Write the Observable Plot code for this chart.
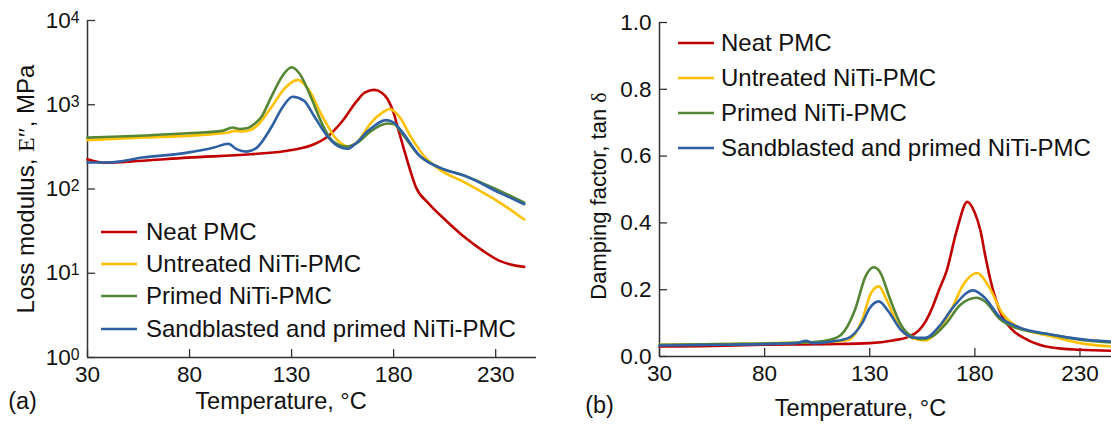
<!DOCTYPE html>
<html><head><meta charset="utf-8">
<script src="https://cdn.jsdelivr.net/npm/d3@7"></script>
<script src="https://cdn.jsdelivr.net/npm/@observablehq/plot@0.6"></script>
<style>
body{margin:0;background:#fff;}
#wrap{display:flex;width:1111px;height:427px;overflow:hidden;}
#wrap svg{display:block;overflow:visible;}
</style></head><body><div id="wrap"></div>
<script>
const seriesNames = ["Neat PMC","Untreated NiTi-PMC","Primed NiTi-PMC","Sandblasted and primed NiTi-PMC"];
const seriesColors = ["#C00000","#FFC000","#558636","#3060A4"];
const xTicks = [30,80,130,180,230];
const lossTicks = [1,10,100,1000,10000];
const tanTicks = [0,0.2,0.4,0.6,0.8,1.0];
const xLabel = "Temperature, °C";
const lossLabel = "Loss modulus, E″, MPa";
const tanLabel = "Damping factor, tan δ";

// (a) Loss modulus E'' (MPa)
const neatLossT = [30,38,55,79,110,130,141,148,155,162,166,170.5,174,177,180,182,185,188,191,197,206,215,224,232,244];
const neatLossV = [225,205,215,236,258,290,340,427,645,1110,1400,1500,1400,1170,800,540,300,170,104,68,41.5,26.5,18.3,14,11.9];
const untrLossT = [30,57,79,99,102,106,110,113,120,127,133,138,145,152,158,162,169,174.6,178,183,188.6,195.6,202.6,215,232,244];
const untrLossV = [380,409,427,468,490,482,505,563,930,1600,1975,1560,735,390,320,360,615,810,890,710,410,236,170,119,69,43.5];
const primLossT = [30,79,96,101,104.5,108,112,115,120,125.5,130,134,139.5,145,150,157,162,169,177,180,185,192,202.6,215,232,244];
const primLossV = [407,458,490,537,515,525,600,705,1230,2200,2785,2320,1230,590,372,320,350,490,600,590,427,258,179,143,95,69];
const sandLossT = [30,40,57,79,92,99,103,108,113,120,125.5,130.5,136,141,148,153,157.5,161,167.5,176.4,180,185,192,202.6,215,232,244];
const sandLossV = [206,206,236,270,310,345,297,278,310,537,930,1245,1120,735,410,320,300,340,490,657,615,448,258,179,143,90,66];

// (b) Damping factor tan delta
const neatTanT = [30,50,80,110,130,141,148,153.4,157,160,163,166.5,171.5,176.4,180,182.7,185,187.5,190,193,197,205,216.6,230,245];
const neatTanV = [0.030,0.031,0.035,0.037,0.040,0.048,0.058,0.078,0.11,0.15,0.20,0.255,0.38,0.463,0.43,0.376,0.30,0.227,0.17,0.12,0.085,0.05,0.027,0.02,0.017];
const untrTanT = [30,60,100,115,120,126.4,130.6,134.3,138,143,150,156.5,161.5,168,175,181,186.6,193,200,216.6,233,245];
const untrTanV = [0.035,0.037,0.042,0.045,0.05,0.11,0.19,0.21,0.17,0.10,0.055,0.048,0.07,0.13,0.22,0.25,0.21,0.13,0.09,0.06,0.037,0.03];
const primTanT = [30,60,100,111,116.4,123,128,131.9,134.8,139.8,144.8,150,154.8,159.8,166.5,173,180.8,185,191.6,200,216.6,233,245];
const primTanV = [0.035,0.037,0.042,0.05,0.065,0.14,0.24,0.267,0.254,0.17,0.095,0.06,0.052,0.06,0.10,0.154,0.176,0.164,0.114,0.085,0.065,0.048,0.042];
const sandTanT = [30,60,95,99.7,103,112,119.7,126.4,130,134.3,139,144.8,151.5,156.5,163,170,179.2,185,191.6,200,216.6,233,245];
const sandTanV = [0.033,0.035,0.04,0.047,0.04,0.045,0.055,0.10,0.145,0.165,0.134,0.08,0.056,0.056,0.09,0.15,0.198,0.174,0.12,0.09,0.065,0.05,0.045];

const font = "'Liberation Sans', Arial, sans-serif";
const serif = "'Liberation Serif', 'Times New Roman', serif";
const axisColor = "#333";
const textColor = "#111";

function rows(T, V, name) { return T.map((t, i) => ({T: t, v: V[i], series: name})); }

const lossData = [
  ...rows(neatLossT, neatLossV, seriesNames[0]),
  ...rows(untrLossT, untrLossV, seriesNames[1]),
  ...rows(primLossT, primLossV, seriesNames[2]),
  ...rows(sandLossT, sandLossV, seriesNames[3])
];
const tanData = [
  ...rows(neatTanT, neatTanV, seriesNames[0]),
  ...rows(untrTanT, untrTanV, seriesNames[1]),
  ...rows(primTanT, primTanV, seriesNames[2]),
  ...rows(sandTanT, sandTanV, seriesNames[3])
];

function panel({width, marginLeft, marginRight, marginTop, marginBottom, xDomain, y, yTicks, yFormat, yBase, data, xLab, panelTag, yLab}) {
  const ph = 427 - marginTop - marginBottom;
  const pw = width - marginLeft - marginRight;
  return Plot.plot({
    width, height: 427, marginLeft, marginRight, marginTop, marginBottom,
    style: {fontFamily: font, fontSize: "22.5px", color: textColor, background: "white", overflow: "visible"},
    x: {domain: xDomain},
    y,
    color: {domain: seriesNames, range: seriesColors},
    marks: [
      Plot.axisX({ticks: xTicks, tickSize: 0, tickPadding: 9, label: null, fontSize: 22.5, fill: textColor}),
      Plot.axisY({ticks: yTicks, tickSize: 0, tickPadding: 8, label: null, tickFormat: yFormat, fontSize: 22.5, fill: textColor}),
      Plot.tickX(xTicks, {x: d => d, insetTop: ph - 8, stroke: axisColor, strokeWidth: 1.3}),
      Plot.tickY(yTicks, {y: d => d, insetRight: pw - 8, stroke: axisColor, strokeWidth: 1.3}),
      Plot.ruleX([xDomain[0]], {stroke: axisColor, strokeWidth: 1.5}),
      Plot.ruleY([yBase], {stroke: axisColor, strokeWidth: 1.5}),
      Plot.line(data, {x: "T", y: "v", z: "series", stroke: "series", curve: "monotone-x", strokeWidth: 2.6}),
      Plot.text([xLab.text], {text: d => d, frameAnchor: "bottom", textAnchor: "middle", dx: xLab.dx, dy: xLab.dy, fontSize: 23.5, fill: textColor}),
      Plot.text([panelTag.text], {text: d => d, frameAnchor: "bottom-left", textAnchor: "middle", dx: panelTag.dx, dy: panelTag.dy, fontSize: 23.5, fill: textColor}),
      Plot.text([yLab.text], {text: d => d, frameAnchor: "left", textAnchor: "middle", rotate: -90, dx: yLab.dx, dy: yLab.dy, fontSize: yLab.size, fill: textColor})
    ]
  });
}

const left = panel({
  width: 550, marginLeft: 87, marginRight: 14, marginTop: 20, marginBottom: 70,
  xDomain: [30, 250],
  y: {type: "log", domain: [1, 10000]},
  yTicks: lossTicks, yFormat: d => "10^" + Math.round(Math.log10(d)), yBase: 1,
  data: lossData,
  xLab: {text: xLabel, dx: -31, dy: 51},
  panelTag: {text: "(a)", dx: -65, dy: 51},
  yLab: {text: lossLabel, dx: -61, dy: 0, size: 24}
});

const right = panel({
  width: 561, marginLeft: 109, marginRight: 0, marginTop: 22, marginBottom: 71,
  xDomain: [30, 245],
  y: {type: "linear", domain: [0, 1]},
  yTicks: tanTicks, yFormat: d3.format(".1f"), yBase: 0,
  data: tanData,
  xLab: {text: xLabel, dx: -25, dy: 59},
  panelTag: {text: "(b)", dx: -60, dy: 56},
  yLab: {text: tanLabel, dx: -61, dy: 6.5, size: 22}
});

// superscript exponents on log tick labels
d3.select(left).selectAll("text").each(function() {
  const m = this.textContent.match(/^10\^(\d)$/);
  if (m) {
    const t = d3.select(this); t.text("");
    t.append("tspan").text("10");
    t.append("tspan").attr("dy", "-0.33em").attr("font-size", "0.7em").text(m[1]);
  }
});

// serif symbols in axis titles
function richLabel(svg, plain, parts) {
  d3.select(svg).selectAll("text").filter(function() { return this.textContent === plain; }).each(function() {
    const t = d3.select(this); t.text("");
    parts.forEach(([s, isSerif]) => {
      const ts = t.append("tspan").text(s);
      if (isSerif) ts.attr("font-family", serif);
    });
  });
}
richLabel(left, lossLabel, [["Loss modulus, ", false], ["E″", true], [", MPa", false]]);
richLabel(right, tanLabel, [["Damping factor, tan ", false], ["δ", true]]);

function addLegend(svg, x0, x1, xt, ys) {
  const g = d3.select(svg).append("g").attr("font-family", font).attr("font-size", 24).attr("text-anchor", "start");
  seriesNames.forEach((n, i) => {
    g.append("line").attr("x1", x0).attr("x2", x1).attr("y1", ys[i]).attr("y2", ys[i])
      .attr("stroke", seriesColors[i]).attr("stroke-width", 2.6);
    g.append("text").attr("x", xt).attr("y", ys[i]).attr("dy", "0.35em").attr("fill", textColor).text(n);
  });
}
addLegend(left, 101, 137, 146, [232, 264, 296, 329]);
addLegend(right, 128, 164, 171, [43, 78, 113, 148]);

document.getElementById("wrap").append(left, right);
</script>
</body></html>
